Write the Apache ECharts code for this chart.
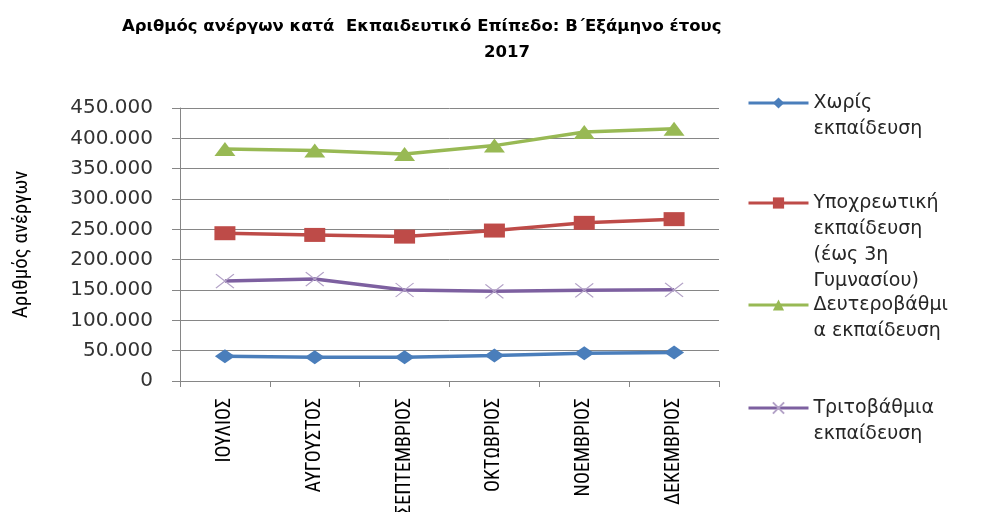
<!DOCTYPE html>
<html>
<head>
<meta charset="utf-8">
<script src="https://cdn.jsdelivr.net/npm/echarts@6/dist/echarts.min.js"></script>
<style>
  html, body { margin: 0; padding: 0; background: #fff; }
  #main { width: 985px; height: 512px; }
</style>
</head>
<body>
<div id="main"></div>
<script>
var months = ['ΙΟΥΛΙΟΣ', 'ΑΥΓΟΥΣΤΟΣ', 'ΣΕΠΤΕΜΒΡΙΟΣ', 'ΟΚΤΩΒΡΙΟΣ', 'ΝΟΕΜΒΡΙΟΣ', 'ΔΕΚΕΜΒΡΙΟΣ'];
var noEducation = [40800, 39200, 39200, 42000, 45800, 47000];
var compulsory = [243600, 240800, 238000, 248000, 260700, 266800];
var secondary = [382500, 380000, 374000, 388000, 410600, 416000];
var tertiary = [164800, 168000, 150000, 147800, 149400, 150400];

var seriesNames = ['Χωρίς εκπαίδευση', 'Υποχρεωτική εκπαίδευση (έως 3η Γυμνασίου)', 'Δευτεροβάθμια εκπαίδευση', 'Τριτοβάθμια εκπαίδευση'];
var legendLines = [
  ['Χωρίς', 'εκπαίδευση'],
  ['Υποχρεωτική', 'εκπαίδευση', '(έως 3η', 'Γυμνασίου)'],
  ['Δευτεροβάθμι', 'α εκπαίδευση'],
  ['Τριτοβάθμια', 'εκπαίδευση']
];
var legendIconY = [103, 203, 305, 408];

var chart = echarts.init(document.getElementById('main'), null, { renderer: 'canvas' });

var LH = 26;
var legends = [];
for (var i = 0; i < seriesNames.length; i++) {
  var n = legendLines[i].length;
  // blank leading lines so the icon sits on the first line of the text
  var pad = new Array(n).join('\n');
  legends.push({
    orient: 'vertical',
    left: 747,
    top: legendIconY[i] - (2 * n - 1) * LH / 2,
    padding: 0,
    itemWidth: 60,
    itemHeight: 14,
    selectedMode: false,
    data: [seriesNames[i]],
    lineStyle: { width: 3 },
    formatter: (function (txt) { return function () { return txt; }; })(pad + legendLines[i].join('\n')),
    textStyle: {
      fontFamily: 'DejaVu Sans',
      fontSize: 19,
      color: '#262626',
      lineHeight: LH
    }
  });
}

function fmt(v) {
  return String(v).replace(/\B(?=(\d{3})+(?!\d))/g, '.');
}

var narrow = 'Liberation Sans Narrow, Roboto Condensed, Roboto';

var option = {
  backgroundColor: '#fff',
  animation: false,
  title: [
    {
      text: 'Αριθμός ανέργων κατά  Εκπαιδευτικό Επίπεδο: Β΄Εξάμηνο έτους',
      left: 117, top: 13,
      textStyle: { fontFamily: 'DejaVu Sans', fontSize: 16.5, fontWeight: 'bold', color: '#000' }
    },
    {
      text: '2017',
      left: 479, top: 39,
      textStyle: { fontFamily: 'DejaVu Sans', fontSize: 16.5, fontWeight: 'bold', color: '#000' }
    }
  ],
  legend: legends,
  grid: { left: 180, right: 266, top: 108, bottom: 131, outerBoundsMode: 'none' },
  xAxis: {
    type: 'category',
    data: months,
    boundaryGap: true,
    axisLine: { lineStyle: { color: '#868686', width: 1 } },
    axisTick: { show: true, length: 6, lineStyle: { color: '#868686' } },
    axisLabel: {
      rotate: 90,
      margin: 17,
      interval: 0,
      fontFamily: narrow,
      fontSize: 20,
      color: '#000'
    }
  },
  yAxis: {
    type: 'value',
    min: 0,
    max: 450000,
    interval: 50000,
    name: 'Αριθμός ανέργων',
    nameLocation: 'middle',
    nameGap: 148,
    nameRotate: 90,
    nameTextStyle: { fontFamily: narrow, fontSize: 21, color: '#000' },
    axisLine: { show: true, lineStyle: { color: '#868686', width: 1 } },
    axisTick: { show: true, length: 8, lineStyle: { color: '#868686' } },
    splitLine: { lineStyle: { color: '#868686', width: 1 } },
    axisLabel: {
      margin: 27,
      fontFamily: 'DejaVu Sans',
      fontSize: 20,
      color: '#333',
      formatter: fmt
    }
  },
  series: [
    {
      name: seriesNames[0], type: 'line', data: noEducation,
      symbol: 'diamond', symbolSize: [20, 14],
      itemStyle: { color: '#4A7EBB' },
      lineStyle: { color: '#4A7EBB', width: 3.5 }
    },
    {
      name: seriesNames[1], type: 'line', data: compulsory,
      symbol: 'rect', symbolSize: [21, 14],
      itemStyle: { color: '#BE4B48' },
      lineStyle: { color: '#BE4B48', width: 3.5 }
    },
    {
      name: seriesNames[2], type: 'line', data: secondary,
      symbol: 'triangle', symbolSize: [21, 14],
      itemStyle: { color: '#98B954' },
      lineStyle: { color: '#98B954', width: 3.5 }
    },
    {
      name: seriesNames[3], type: 'line', data: tertiary,
      symbol: 'path://M0,0L10,10M10,0L0,10', symbolSize: [18, 14],
      itemStyle: { color: 'rgba(0,0,0,0)', borderColor: '#B3A2C7', borderWidth: 1.2 },
      lineStyle: { color: '#7D60A0', width: 3.5 }
    }
  ]
};

chart.setOption(option);
</script>
</body>
</html>
